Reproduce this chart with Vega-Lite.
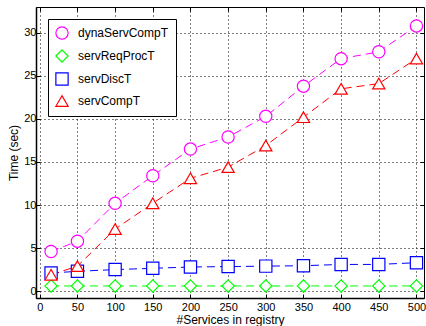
{
  "$schema": "https://vega.github.io/schema/vega-lite/v6.json",
  "width": 388,
  "height": 291,
  "autosize": {"type": "none"},
  "padding": {"left": 36, "top": 7, "right": 2, "bottom": 28},
  "background": "white",
  "config": {
    "font": "Liberation Sans",
    "view": {"stroke": "black", "strokeWidth": 1},
    "axis": {
      "domainColor": "black",
      "domainWidth": 1.5,
      "tickColor": "black",
      "tickSize": -4,
      "tickWidth": 1,
      "labelColor": "black",
      "labelFontSize": 11,
      "titleColor": "black",
      "titleFontSize": 12,
      "titleFontWeight": "normal",
      "gridColor": "black",
      "gridDash": [1, 3],
      "gridOpacity": 1,
      "gridWidth": 1
    },
    "legend": {
      "title": null, "orient": "none", "legendX": 12, "legendY": 12,
      "strokeColor": "black", "fillColor": "white", "padding": 7,
      "labelFontSize": 12, "labelColor": "black", "labelOffset": 9,
      "symbolSize": 150, "symbolStrokeWidth": 1.2, "symbolFillColor": "white",
      "rowPadding": 5, "labelLimit": 200
    }
  },
  "data": {
    "values": [
      {"x": 15, "series": "dynaServCompT", "y": 4.6},
      {"x": 50, "series": "dynaServCompT", "y": 5.8},
      {"x": 100, "series": "dynaServCompT", "y": 10.2},
      {"x": 150, "series": "dynaServCompT", "y": 13.4},
      {"x": 200, "series": "dynaServCompT", "y": 16.5},
      {"x": 250, "series": "dynaServCompT", "y": 17.9},
      {"x": 300, "series": "dynaServCompT", "y": 20.3},
      {"x": 350, "series": "dynaServCompT", "y": 23.8},
      {"x": 400, "series": "dynaServCompT", "y": 27.0},
      {"x": 450, "series": "dynaServCompT", "y": 27.8},
      {"x": 500, "series": "dynaServCompT", "y": 30.8},
      {"x": 15, "series": "servReqProcT", "y": 0.6},
      {"x": 50, "series": "servReqProcT", "y": 0.6},
      {"x": 100, "series": "servReqProcT", "y": 0.6},
      {"x": 150, "series": "servReqProcT", "y": 0.6},
      {"x": 200, "series": "servReqProcT", "y": 0.6},
      {"x": 250, "series": "servReqProcT", "y": 0.6},
      {"x": 300, "series": "servReqProcT", "y": 0.6},
      {"x": 350, "series": "servReqProcT", "y": 0.6},
      {"x": 400, "series": "servReqProcT", "y": 0.6},
      {"x": 450, "series": "servReqProcT", "y": 0.6},
      {"x": 500, "series": "servReqProcT", "y": 0.6},
      {"x": 15, "series": "servDiscT", "y": 2.1},
      {"x": 50, "series": "servDiscT", "y": 2.3},
      {"x": 100, "series": "servDiscT", "y": 2.5},
      {"x": 150, "series": "servDiscT", "y": 2.65},
      {"x": 200, "series": "servDiscT", "y": 2.8},
      {"x": 250, "series": "servDiscT", "y": 2.85},
      {"x": 300, "series": "servDiscT", "y": 2.9},
      {"x": 350, "series": "servDiscT", "y": 2.95},
      {"x": 400, "series": "servDiscT", "y": 3.1},
      {"x": 450, "series": "servDiscT", "y": 3.1},
      {"x": 500, "series": "servDiscT", "y": 3.3},
      {"x": 15, "series": "servCompT", "y": 1.9},
      {"x": 50, "series": "servCompT", "y": 2.9},
      {"x": 100, "series": "servCompT", "y": 7.2},
      {"x": 150, "series": "servCompT", "y": 10.2},
      {"x": 200, "series": "servCompT", "y": 13.1},
      {"x": 250, "series": "servCompT", "y": 14.4},
      {"x": 300, "series": "servCompT", "y": 16.9},
      {"x": 350, "series": "servCompT", "y": 20.2},
      {"x": 400, "series": "servCompT", "y": 23.5},
      {"x": 450, "series": "servCompT", "y": 24.1},
      {"x": 500, "series": "servCompT", "y": 27.0}
    ]
  },
  "layer": [
    {
      "mark": {"type": "line", "strokeDash": [8, 5], "strokeWidth": 1},
      "encoding": {
        "x": {
          "field": "x", "type": "quantitative",
          "scale": {"domain": [-5, 510], "nice": false, "zero": false},
          "axis": {"title": "#Services in registry", "values": [0, 50, 100, 150, 200, 250, 300, 350, 400, 450, 500], "labelPadding": 7, "titlePadding": 2}
        },
        "y": {
          "field": "y", "type": "quantitative",
          "scale": {"domain": [-0.8, 33], "nice": false, "zero": false},
          "axis": {"title": "Time (sec)", "values": [0, 5, 10, 15, 20, 25, 30], "labelPadding": 4, "titlePadding": 3}
        },
        "color": {
          "field": "series", "type": "nominal",
          "scale": {"domain": ["dynaServCompT", "servReqProcT", "servDiscT", "servCompT"], "range": ["#ff00ff", "#00ff00", "#0000ff", "#ff0000"]}
        }
      }
    },
    {
      "mark": {"type": "point", "filled": false, "fill": "white", "fillOpacity": 1, "strokeWidth": 1.2, "size": 150, "opacity": 1},
      "encoding": {
        "x": {"field": "x", "type": "quantitative", "axis": {"orient": "top", "labels": false, "title": null, "grid": false, "domain": false, "values": [0, 50, 100, 150, 200, 250, 300, 350, 400, 450, 500]}},
        "y": {"field": "y", "type": "quantitative", "axis": {"orient": "right", "labels": false, "title": null, "grid": false, "domain": false, "values": [0, 5, 10, 15, 20, 25, 30]}},
        "color": {"field": "series", "type": "nominal"},
        "shape": {
          "field": "series", "type": "nominal",
          "scale": {"domain": ["dynaServCompT", "servReqProcT", "servDiscT", "servCompT"], "range": ["circle", "diamond", "square", "triangle-up"]}
        }
      }
    }
  ],
  "resolve": {"axis": {"x": "independent", "y": "independent"}}
}
